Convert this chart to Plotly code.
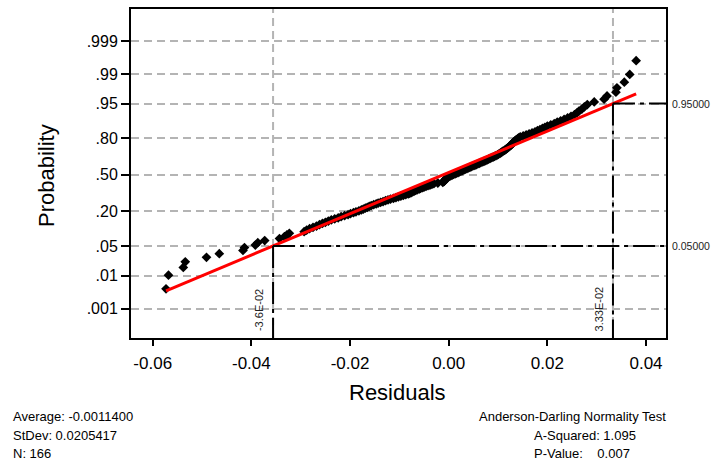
import plotly.graph_objects as go
from statistics import NormalDist

# ---------------- data ----------------
residuals = [
    -0.0573, -0.0568, -0.0538, -0.0534, -0.0491, -0.0465, -0.0417, -0.0414, -0.0392, -0.0387,
    -0.0373, -0.0343, -0.0333, -0.0328, -0.0323, -0.0293, -0.0288, -0.0282, -0.0275, -0.0268,
    -0.0262, -0.0256, -0.0250, -0.0244, -0.0238, -0.0231, -0.0224, -0.0218, -0.0211, -0.0204,
    -0.0199, -0.0193, -0.0188, -0.0182, -0.0177, -0.0173, -0.0169, -0.0165, -0.0161, -0.0157,
    -0.0152, -0.0147, -0.0143, -0.0138, -0.0133, -0.0128, -0.0123, -0.0118, -0.0112, -0.0107,
    -0.0102, -0.0097, -0.0092, -0.0087, -0.0082, -0.0079, -0.0076, -0.0073, -0.0070, -0.0067,
    -0.0064, -0.0060, -0.0057, -0.0053, -0.0050, -0.0046, -0.0042, -0.0038, -0.0034, -0.0030,
    -0.0022, -0.0012, -0.0010, -0.0009, -0.0008, -0.0007, -0.0006, -0.0005, -0.0003, -0.0002,
    0.0001, 0.0004, 0.0007, 0.0010, 0.0013, 0.0016, 0.0019, 0.0022, 0.0025, 0.0028,
    0.0031, 0.0034, 0.0037, 0.0040, 0.0043, 0.0046, 0.0049, 0.0053, 0.0056, 0.0059,
    0.0062, 0.0065, 0.0069, 0.0072, 0.0075, 0.0078, 0.0081, 0.0084, 0.0087, 0.0090,
    0.0093, 0.0096, 0.0099, 0.0101, 0.0104, 0.0106, 0.0108, 0.0110, 0.0113, 0.0115,
    0.0117, 0.0119, 0.0121, 0.0123, 0.0125, 0.0127, 0.0128, 0.0130, 0.0131, 0.0133,
    0.0135, 0.0137, 0.0140, 0.0142, 0.0145, 0.0151, 0.0157, 0.0163, 0.0169, 0.0175,
    0.0180, 0.0185, 0.0190, 0.0195, 0.0200, 0.0207, 0.0214, 0.0220, 0.0227, 0.0234,
    0.0241, 0.0248, 0.0255, 0.0260, 0.0264, 0.0270, 0.0275, 0.0281, 0.0295, 0.0315,
    0.0321, 0.0339, 0.0341, 0.0356, 0.0367, 0.0380,
]
fit_mean = -0.00114
fit_sd = 0.02095
ref_probs = [0.05, 0.95]
ref_x = [-0.0356, 0.0333]
ref_x_labels = ["-3.6E-02", "3.33E-02"]
ref_prob_labels = ["0.05000", "0.95000"]
prob_ticks = [0.001, 0.01, 0.05, 0.20, 0.50, 0.80, 0.95, 0.99, 0.999]
prob_tick_labels = [".001", ".01", ".05", ".20", ".50", ".80", ".95", ".99", ".999"]
x_tick_vals = [-0.06, -0.04, -0.02, 0.00, 0.02, 0.04]
x_tick_labels = ["-0.06", "-0.04", "-0.02", "0.00", "0.02", "0.04"]
stats_left = ["Average: -0.0011400", "StDev: 0.0205417", "N: 166"]
stats_right = ["Anderson-Darling Normality Test", "A-Squared: 1.095",
               "P-Value:\u00a0\u00a0\u00a0 0.007"]

# ---------------- derived (normal probability scale) ----------------
nd = NormalDist()
data = sorted(residuals)
n = len(data)
z_pts = [nd.inv_cdf((i + 1 - 0.3) / (n + 0.4)) for i in range(n)]
z_ticks = [nd.inv_cdf(p) for p in prob_ticks]
z_ref = [nd.inv_cdf(p) for p in ref_probs]
line_x = [min(data), max(data)]
line_z = [(v - fit_mean) / fit_sd for v in line_x]

# ---------------- layout constants ----------------
W, H = 711, 464
ML, MR, MT, MB = 131, 45, 7, 126
PW, PH = W - ML - MR, H - MT - MB
XR = [-0.0644, 0.04405]
YR = [-3.77, 3.83]
FONT = "Liberation Sans, Arial, Helvetica, sans-serif"


def px_x(px):
    return (px - ML) / PW


def px_y(py):
    return (MT + PH - py) / PH


fig = go.Figure()
fig.add_trace(go.Scatter(
    x=data, y=z_pts, mode="markers",
    marker=dict(symbol="diamond", size=7.5, color="black", line=dict(width=0)),
    showlegend=False, hoverinfo="x+y"))
fig.add_trace(go.Scatter(
    x=line_x, y=line_z, mode="lines",
    line=dict(color="#ff0000", width=3), showlegend=False))

shapes = []
grey = "#b4b4b4"
for xv in ref_x:
    shapes.append(dict(type="line", xref="x", yref="paper", x0=xv, x1=xv, y0=0, y1=1,
                       line=dict(color=grey, width=2, dash="8px,5px"), layer="below"))
blk_dash = "22px,5px,4px,5px"
for xv, zv in zip(ref_x, z_ref):
    shapes.append(dict(type="line", xref="x", yref="y", x0=xv, x1=XR[1], y0=zv, y1=zv,
                       line=dict(color="black", width=2, dash=blk_dash), layer="above"))
    shapes.append(dict(type="line", xref="x", yref="y", x0=xv, x1=xv, y0=zv, y1=YR[0],
                       line=dict(color="black", width=2, dash=blk_dash), layer="above"))

ann = []
for xv, lab in zip(ref_x, ref_x_labels):
    ann.append(dict(x=xv, xref="x", y=0, yref="paper", text=lab, textangle=-90,
                    showarrow=False, xanchor="right", yanchor="bottom", xshift=-6, yshift=5,
                    font=dict(family=FONT, size=11, color="#222")))
for zv, lab in zip(z_ref, ref_prob_labels):
    ann.append(dict(x=1, xref="paper", y=zv, yref="y", text=lab, showarrow=False,
                    xanchor="left", yanchor="middle", xshift=4,
                    font=dict(family=FONT, size=10.5, color="#222")))
ann.append(dict(x=px_x(47), xref="paper", y=px_y(175), yref="paper", text="Probability",
                textangle=-90, showarrow=False, xanchor="center", yanchor="middle",
                font=dict(family=FONT, size=22, color="black")))
ann.append(dict(x=px_x(397), xref="paper", y=px_y(393), yref="paper", text="Residuals",
                showarrow=False, xanchor="center", yanchor="middle",
                font=dict(family=FONT, size=22, color="black")))
for k, t in enumerate(stats_left):
    ann.append(dict(x=px_x(11), xref="paper", y=px_y(417 + 18.8 * k), yref="paper", text=t,
                    showarrow=False, xanchor="left", yanchor="middle",
                    font=dict(family=FONT, size=13, color="black")))
right_left_px = [477, 532, 532]
for k, t in enumerate(stats_right):
    ann.append(dict(x=px_x(right_left_px[k]), xref="paper", y=px_y(417 + 18.8 * k), yref="paper",
                    text=t, showarrow=False, xanchor="left", yanchor="middle",
                    font=dict(family=FONT, size=13, color="black")))

fig.update_layout(
    width=W, height=H, margin=dict(l=ML, r=MR, t=MT, b=MB, pad=0),
    paper_bgcolor="white", plot_bgcolor="white",
    font=dict(family=FONT, color="black"),
    shapes=shapes, annotations=ann, showlegend=False,
    xaxis=dict(range=XR, tickvals=x_tick_vals, ticktext=x_tick_labels,
               showgrid=False, zeroline=False, showline=True, linecolor="black", linewidth=2,
               mirror=True, ticks="outside", ticklen=6, tickwidth=1.5, tickcolor="black",
               ticklabelstandoff=3,
               tickfont=dict(family=FONT, size=17, color="black")),
    yaxis=dict(range=YR, tickvals=z_ticks, ticktext=prob_tick_labels,
               showgrid=True, gridcolor=grey, gridwidth=2, griddash="8px,5px",
               zeroline=False, showline=True, linecolor="black", linewidth=2,
               mirror=True, ticks="outside", ticklen=8, tickwidth=1.5, tickcolor="black",
               tickfont=dict(family=FONT, size=16, color="black")),
)

fig.write_html("out.html", config={"displayModeBar": False},
               post_script="document.body.style.margin='0';document.body.style.overflow='hidden';")
